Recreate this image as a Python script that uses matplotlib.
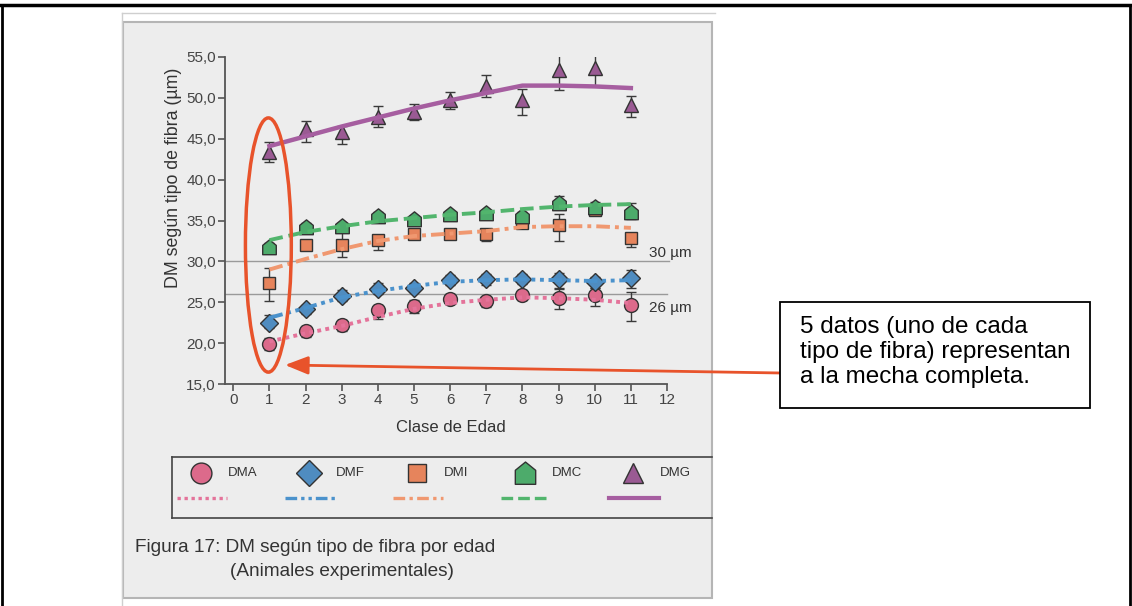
import numpy as np
import matplotlib.pyplot as plt
from matplotlib.patches import Rectangle, Ellipse
from matplotlib.lines import Line2D
from matplotlib.path import Path
from matplotlib.ticker import FuncFormatter

plt.rcParams['font.family'] = ['Liberation Sans', 'DejaVu Sans']

# data
edad = [1, 2, 3, 4, 5, 6, 7, 8, 9, 10, 11]
series = ['DMA', 'DMF', 'DMI', 'DMC', 'DMG']

dma = [19.9, 21.5, 22.2, 24.0, 24.5, 25.4, 25.1, 25.9, 25.5, 25.9, 24.7]
dma_lo = [19.2, 20.7, 21.5, 23.0, 23.7, 24.9, 24.4, 25.3, 24.2, 24.6, 22.7]
dma_hi = [20.6, 22.1, 22.8, 24.7, 25.3, 26.0, 25.7, 26.5, 26.7, 26.7, 26.2]
dma_fit = [20.2, 21.2, 22.1, 23.2, 24.2, 24.9, 25.3, 25.6, 25.5, 25.3, 24.9]

dmf = [22.5, 24.2, 25.8, 26.6, 26.8, 27.7, 27.8, 27.8, 27.9, 27.5, 28.0]
dmf_lo = [21.8, 23.6, 25.1, 26.0, 26.2, 27.1, 27.1, 27.2, 26.6, 26.8, 26.8]
dmf_hi = [23.5, 24.7, 26.5, 27.3, 27.3, 28.3, 28.4, 28.5, 28.6, 28.1, 29.0]
dmf_fit = [23.1, 24.3, 25.6, 26.4, 27.0, 27.5, 27.7, 27.8, 27.7, 27.6, 27.7]

dmi = [27.3, 32.0, 32.0, 32.6, 33.4, 33.3, 33.3, 34.7, 34.4, 36.3, 32.8]
dmi_lo = [25.2, 31.7, 30.5, 31.4, 32.7, 33.0, 32.5, 34.1, 32.5, 35.7, 31.8]
dmi_hi = [29.2, 32.3, 33.6, 33.2, 34.0, 33.6, 34.0, 35.2, 35.8, 37.0, 33.4]
dmi_fit = [29.0, 30.3, 31.5, 32.5, 33.1, 33.4, 33.7, 34.2, 34.3, 34.3, 34.1]

dmc = [31.8, 34.2, 34.3, 35.6, 35.2, 35.8, 35.9, 35.6, 37.2, 36.7, 36.0]
dmc_lo = [31.5, 33.8, 33.9, 35.2, 34.9, 35.5, 35.6, 35.0, 36.5, 36.2, 35.2]
dmc_hi = [32.2, 34.7, 34.7, 36.0, 35.5, 36.1, 36.3, 36.1, 38.0, 37.3, 37.2]
dmc_fit = [32.6, 33.6, 34.3, 34.9, 35.3, 35.7, 36.0, 36.4, 36.7, 36.9, 37.0]

dmg = [43.4, 46.2, 45.8, 47.7, 48.3, 49.8, 51.5, 49.7, 53.4, 53.7, 49.1]
dmg_lo = [42.1, 44.6, 44.4, 46.4, 47.3, 48.6, 50.1, 47.9, 51.0, 51.5, 47.7]
dmg_hi = [44.6, 47.2, 46.6, 49.0, 49.2, 50.7, 52.8, 51.1, 55.4, 55.5, 50.2]
dmg_fit = [44.1, 45.3, 46.5, 47.6, 48.7, 49.7, 50.6, 51.5, 51.5, 51.4, 51.2]

ref_lines = [30, 26]
ref_labels = ['30 µm', '26 µm']

# styles
house = Path([(-0.8, -0.85), (0.8, -0.85), (0.8, 0.25), (0, 0.9), (-0.8, 0.25), (-0.8, -0.85)],
             [Path.MOVETO, Path.LINETO, Path.LINETO, Path.LINETO, Path.LINETO, Path.CLOSEPOLY])
markers = ['o', 'D', 's', house, '^']
msizes = [10, 9, 9, 11, 10]
mcolors = ['#dc6a8b', '#4f8cc0', '#e6845c', '#4dab6b', '#9a5a93']
lcolors = ['#e4739a', '#4b92cc', '#f09870', '#52b56d', '#a65ea0']
lstyles = [(0, (1, 1.1)), (0, (3.5, 1.2, 1, 1.2, 1, 1.2)), (0, (3.5, 1.3, 1, 1.3)),
           (0, (3.5, 1.5)), '-']
lwidths = [2.8, 2.8, 2.8, 2.8, 3.2]

vals = [dma, dmf, dmi, dmc, dmg]
los = [dma_lo, dmf_lo, dmi_lo, dmc_lo, dmg_lo]
his = [dma_hi, dmf_hi, dmi_hi, dmc_hi, dmg_hi]
fits = [dma_fit, dmf_fit, dmi_fit, dmc_fit, dmg_fit]

W, H = 1132, 606
fig = plt.figure(figsize=(W / 100, H / 100), dpi=100)


def fx(px):
    return px / W


def fy(py):
    return 1 - py / H


# page frame
fig.add_artist(Line2D([0, 1], [fy(5), fy(5)], color='black', lw=2.5))
fig.add_artist(Line2D([fx(1.5), fx(1.5)], [0, fy(5)], color='black', lw=2))
fig.add_artist(Line2D([fx(1130), fx(1130)], [0, fy(5)], color='black', lw=2))

# grey image panel
fig.add_artist(Line2D([fx(122), fx(715)], [fy(13), fy(13)], color='#cfcfcf', lw=1))
fig.add_artist(Line2D([fx(122), fx(122)], [fy(13), fy(606)], color='#cfcfcf', lw=1))
fig.add_artist(Rectangle((fx(123), fy(598)), fx(712 - 123), (598 - 22) / H,
                         facecolor='#ededed', edgecolor='#b5b5b5', lw=1.5, zorder=0))

ax = fig.add_axes([fx(225), fy(384), fx(667 - 225), (384 - 57) / H])
ax.set_facecolor('none')
ax.set_xlim(-0.23, 12)
ax.set_ylim(15, 55)
ax.set_xticks(range(0, 13))
ax.set_yticks(np.arange(15, 56, 5))
ax.yaxis.set_major_formatter(FuncFormatter(lambda v, p: f'{v:.1f}'.replace('.', ',')))
for s in ['top', 'right']:
    ax.spines[s].set_visible(False)
for s in ['left', 'bottom']:
    ax.spines[s].set_color('#555555')
    ax.spines[s].set_linewidth(1.3)
ax.tick_params(direction='out', length=5, width=1.2, color='#555555',
               labelsize=11, labelcolor='#444444', pad=1.5)

# reference lines
ax.plot([-0.23, 12.05], [ref_lines[0]] * 2, color='#9a9a9a', lw=1, clip_on=False, zorder=1)
ax.plot([-0.23, 12], [ref_lines[1]] * 2, color='#9a9a9a', lw=1, clip_on=False, zorder=1)
ax.text(11.5, ref_lines[0] + 0.2, ref_labels[0], fontsize=11, color='#333333',
        ha='left', va='bottom')
ax.text(11.5, ref_lines[1] - 0.9, ref_labels[1], fontsize=11, color='#333333',
        ha='left', va='top')

for i in range(5):
    v = np.array(vals[i])
    yerr = [v - np.array(los[i]), np.array(his[i]) - v]
    ax.errorbar(edad, v, yerr=yerr, fmt='none', ecolor='#3a3a3a', elinewidth=1,
                capsize=3.5, capthick=1, zorder=3)
    ax.plot(edad, v, linestyle='none', marker=markers[i], ms=msizes[i],
            mfc=mcolors[i], mec='#333333', mew=1, zorder=4)
    ax.plot(edad, fits[i], color=lcolors[i], lw=lwidths[i], linestyle=lstyles[i],
            zorder=5, dash_capstyle='butt')

fig.text(fx(174), fy(178), 'DM según tipo de fibra (µm)', rotation=90, fontsize=12.8,
         color='#333333', ha='center', va='center')
fig.text(fx(451), fy(427), 'Clase de Edad', fontsize=12, color='#333333',
         ha='center', va='center')

# red ellipse + arrow
ax.add_patch(Ellipse((0.97, 32.0), 1.27, 31.1, fill=False, edgecolor='#e8532b', lw=2.5,
                     clip_on=False, zorder=6))
ax.annotate('', xy=(285, H - 365), xytext=(781, H - 373), xycoords='figure pixels',
            textcoords='figure pixels',
            arrowprops=dict(arrowstyle='-|>,head_length=1.4,head_width=0.55',
                            color='#e8532b', lw=2, shrinkA=0, shrinkB=0))

# text box
fig.add_artist(Rectangle((fx(780), fy(408)), fx(1090 - 780), (408 - 302) / H,
                         facecolor='white', edgecolor='black', lw=1.3))
fig.text(fx(800), fy(316), '5 datos (uno de cada\ntipo de fibra) representan\na la mecha completa.',
         fontsize=17.5, color='black', ha='left', va='top', linespacing=1.17)

# legend (markers above, line samples below)
lx0, lx1, ly0, ly1 = 172, 712, 457, 518
for xs, ys in [([lx0, lx1], [ly0, ly0]), ([lx0, lx1], [ly1, ly1]), ([lx0, lx0], [ly0, ly1])]:
    fig.add_artist(Line2D([fx(x) for x in xs], [fy(y) for y in ys], color='#444444', lw=1.2))
step = 108
for i, name in enumerate(series):
    mx = 201 + i * step
    fig.add_artist(Line2D([fx(mx)], [fy(473)], marker=markers[i], ms=msizes[i] * 1.5,
                          mfc=mcolors[i], mec='#333333', mew=1))
    fig.text(fx(mx + 27), fy(473), name, fontsize=9.5, color='#333333', ha='left', va='center')
    fig.add_artist(Line2D([fx(mx - 24), fx(mx + 26)], [fy(498), fy(498)], color=lcolors[i],
                          lw=2.4 if i < 4 else 3.0, linestyle=lstyles[i], dash_capstyle='butt'))

fig.text(fx(135), fy(548), 'Figura 17: DM según tipo de fibra por edad', fontsize=13.7,
         color='#333333', ha='left', va='center')
fig.text(fx(230), fy(572), '(Animales experimentales)', fontsize=13.7,
         color='#333333', ha='left', va='center')

fig.savefig('out.png', dpi=100)
